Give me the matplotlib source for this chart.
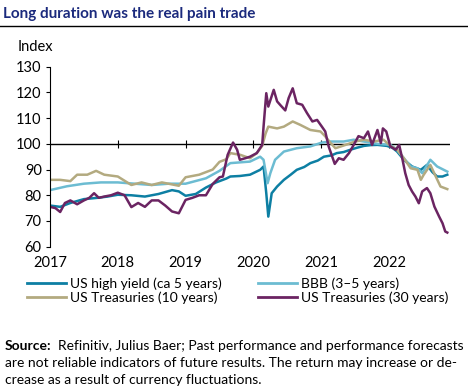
import matplotlib
matplotlib.use('Agg')
import matplotlib.pyplot as plt
from matplotlib.lines import Line2D

plt.rcParams['font.family'] = ['Lato', 'DejaVu Sans']

# data (year fraction, index level)
hy_x = [2017.0, 2017.15, 2017.3, 2017.5, 2017.7, 2017.85, 2018.0, 2018.2, 2018.4, 2018.6, 2018.8, 2018.9,
        2019.0, 2019.15, 2019.3, 2019.45, 2019.6, 2019.66, 2019.8, 2019.95, 2020.1, 2020.15, 2020.19,
        2020.22, 2020.27, 2020.35, 2020.45, 2020.55, 2020.64, 2020.75, 2020.84, 2020.95, 2021.04, 2021.15,
        2021.23, 2021.33, 2021.43, 2021.53, 2021.63, 2021.73, 2021.83, 2021.97, 2022.05, 2022.12, 2022.22,
        2022.34, 2022.47, 2022.56, 2022.64, 2022.71, 2022.79, 2022.86]
hy_y = [76, 75.5, 77, 78.5, 79, 79.5, 80.2, 80, 79.5, 80.5, 82, 81.5,
        79.8, 80.5, 83, 85, 86.5, 87.3, 87.5, 88, 89.9, 91.2, 80.8,
        71.7, 80.8, 83.4, 86, 88, 89.9, 91, 92.5, 93.5, 95, 95.5,
        96.4, 96.8, 97.7, 98.5, 99.2, 99.5, 99.6, 99.2, 98.5, 97, 93.8,
        91.2, 89.9, 91.8, 89, 87.3, 87.3, 88]

bbb_x = [2017.0, 2017.25, 2017.5, 2017.75, 2018.0, 2018.25, 2018.5, 2018.75, 2019.0, 2019.3, 2019.5, 2019.66,
         2019.95, 2020.1, 2020.15, 2020.21, 2020.25, 2020.32, 2020.45, 2020.64, 2020.84, 2021.01, 2021.14,
         2021.33, 2021.48, 2021.63, 2021.83, 2022.02, 2022.12, 2022.22, 2022.32, 2022.42, 2022.49, 2022.61,
         2022.71, 2022.86]
bbb_y = [82, 83.5, 84.5, 85, 85, 84.5, 84, 84.5, 84.5, 86.6, 89.5, 92.5,
         93.1, 95, 93.8, 84.7, 88.6, 93.8, 97, 98.3, 99, 100.5, 100.9,
         100.9, 101.6, 100.9, 100, 99.6, 97.7, 94.4, 91.2, 90.5, 88.6, 93.8,
         91.2, 89.2]

t10_x = [2017.0, 2017.15, 2017.3, 2017.4, 2017.55, 2017.68, 2017.8, 2018.0, 2018.2, 2018.35, 2018.5, 2018.65,
         2018.9, 2019.0, 2019.2, 2019.4, 2019.5, 2019.6, 2019.66, 2019.81, 2019.95, 2020.05, 2020.13,
         2020.18, 2020.22, 2020.35, 2020.45, 2020.58, 2020.69, 2020.84, 2020.99, 2021.06, 2021.14, 2021.21,
         2021.36, 2021.5, 2021.63, 2021.78, 2021.92, 2022.02, 2022.12, 2022.22, 2022.32, 2022.42, 2022.47,
         2022.51, 2022.61, 2022.69, 2022.76, 2022.86]
t10_y = [86, 86, 85.5, 88, 88, 89.5, 88, 87.3, 84, 85, 84, 85,
         83.7, 87, 88, 90, 93, 94, 96.4, 95.7, 94.4, 96.4, 99.2,
         104, 106.7, 106, 106.7, 108.7, 107.4, 105.4, 104.8, 102.9, 100.3, 98.3,
         99.6, 100.9, 101.6, 100.9, 101.6, 99.2, 97.7, 94.4, 90.5, 89.9, 86,
         87.9, 91.8, 87.3, 83.4, 82.4]

t30_x = [2017.0, 2017.08, 2017.15, 2017.22, 2017.3, 2017.4, 2017.5, 2017.58, 2017.65, 2017.72, 2017.8, 2017.9,
         2018.0, 2018.1, 2018.2, 2018.3, 2018.4, 2018.5, 2018.6, 2018.7, 2018.8, 2018.9, 2019.0, 2019.1,
         2019.2, 2019.3, 2019.4, 2019.5, 2019.55, 2019.62, 2019.7, 2019.76, 2019.8, 2019.88, 2019.95,
         2020.05, 2020.13, 2020.15, 2020.19, 2020.22, 2020.3, 2020.35, 2020.4, 2020.47, 2020.52, 2020.58,
         2020.64, 2020.72, 2020.79, 2020.87, 2020.94, 2021.01, 2021.06, 2021.11, 2021.2, 2021.26, 2021.33,
         2021.41, 2021.48, 2021.55, 2021.63, 2021.69, 2021.75, 2021.83, 2021.88, 2021.91, 2021.96, 2022.02,
         2022.1, 2022.15, 2022.2, 2022.24, 2022.29, 2022.34, 2022.39, 2022.44, 2022.49, 2022.56, 2022.61,
         2022.67, 2022.74, 2022.79, 2022.83, 2022.86]
t30_y = [75.5, 75, 73.5, 77, 78, 76.5, 78, 79, 80.8, 79, 79.5, 80,
         81, 80, 75.4, 77, 75.5, 78, 78, 76, 73.7, 73, 78.2, 79,
         80, 80, 84.4, 87, 87.3, 95.7, 100.5, 97.7, 93.8, 94.4, 95,
         96.4, 99.6, 106.7, 119.7, 114.5, 121, 116.5, 115, 113, 117.8, 121.6,
         115.8, 115.2, 112, 108.7, 109.3, 106.7, 104.8, 99, 92.2, 94.4, 93.8,
         96.4, 99.6, 103, 102.2, 104.8, 99.6, 105.4, 100.3, 106, 104.8, 99,
         97.7, 99.6, 93.8, 88.6, 84, 81.5, 79.5, 76.9, 81.5, 82.8, 80.8,
         75.6, 71.7, 69.1, 65.9, 65.5]

years = [2017, 2018, 2019, 2020, 2021, 2022]
yticks = [60, 70, 80, 90, 100, 110, 120, 130]

c_hy = '#0d7fa3'
c_bbb = '#6cbcd2'
c_t10 = '#b3aa80'
c_t30 = '#6b2462'

fig = plt.figure(figsize=(4.68, 3.91), dpi=100)
ax = fig.add_axes([50 / 468, 1 - 246.7 / 391, 400 / 468, 180 / 391])

ax.plot(hy_x, hy_y, color=c_hy, lw=1.8)
ax.plot(bbb_x, bbb_y, color=c_bbb, lw=1.8)
ax.plot(t10_x, t10_y, color=c_t10, lw=1.8)
ax.plot(t30_x, t30_y, color=c_t30, lw=1.8)

# the zero-line at 100 carries the year ticks
ax.axhline(100, color='black', lw=1, zorder=1)
ax.plot(years[1:], [100] * (len(years) - 1), '|', color='black', ms=6, mew=0.8, zorder=1)

ax.set_xlim(2017, 2022.9)
ax.set_ylim(60, 130)
ax.set_xticks(years)
ax.set_yticks(yticks)
ax.tick_params(axis='x', length=0, pad=7, labelsize=10.5)
ax.tick_params(axis='y', length=3, width=0.8, pad=3, labelsize=10.5)
for s in ['top', 'right', 'bottom']:
    ax.spines[s].set_visible(False)
ax.spines['left'].set_linewidth(0.8)

fig.text(3 / 468, 1 - 14 / 391, 'Long duration was the real pain trade', fontsize=11,
         fontweight='bold', color='#1b2a7d', va='center')
fig.add_artist(Line2D([0, 1], [1 - 26 / 391, 1 - 26 / 391], color='black', lw=1))
fig.text(18 / 468, 1 - 47 / 391, 'Index', fontsize=10.5, va='center')

handles = [Line2D([], [], color=c, lw=2) for c in [c_hy, c_bbb, c_t10, c_t30]]
labels = ['US high yield (ca 5 years)', 'BBB (3\u20135 years)',
          'US Treasuries (10 years)', 'US Treasuries (30 years)']
order = [0, 2, 1, 3]
fig.legend([handles[i] for i in order], [labels[i] for i in order], ncol=2,
           loc='upper left', bbox_to_anchor=(27 / 468, 1 - 277 / 391), frameon=False,
           fontsize=10, handlelength=2.8, handletextpad=0.3, columnspacing=2.6,
           borderpad=0, borderaxespad=0, labelspacing=0.15)

fig.text(5 / 468, 1 - 346 / 391, 'Source:', fontsize=10, fontweight='bold', va='center')
fig.text(58 / 468, 1 - 346 / 391,
         'Refinitiv, Julius Baer; Past performance and performance forecasts',
         fontsize=10, va='center')
fig.text(5 / 468, 1 - 363 / 391,
         'are not reliable indicators of future results. The return may increase or de-',
         fontsize=10, va='center')
fig.text(5 / 468, 1 - 380 / 391, 'crease as a result of currency fluctuations.',
         fontsize=10, va='center')

fig.savefig('out.png', dpi=100)
